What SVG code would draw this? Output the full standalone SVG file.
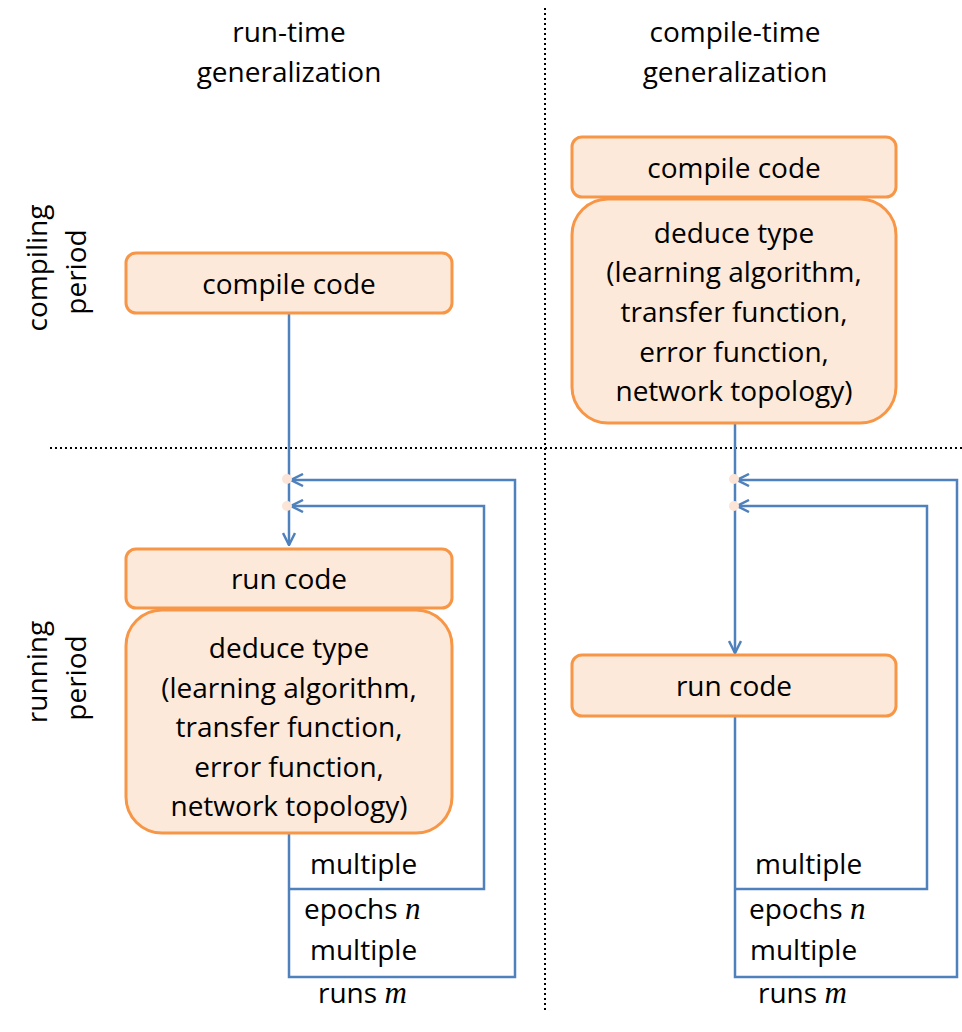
<svg xmlns="http://www.w3.org/2000/svg" width="962" height="1032" viewBox="0 0 962 1032">
<style>
text{font-family:"Open Sans","Noto Sans",sans-serif;font-size:28px;fill:#000;}
.c{text-anchor:middle;}
.box{fill:#FDE9D9;stroke:#F79646;stroke-width:3;}
.ln{fill:none;stroke:#4F81BD;stroke-width:2.5;}
.dot{fill:none;stroke:#000;stroke-width:2;stroke-dasharray:2 3;}
.m{font-family:"Liberation Serif","DejaVu Serif",serif;font-style:italic;font-size:31px;}
.pt{fill:#FCE4D6;}
</style>
<defs>
<marker id="ah" viewBox="0 0 14 14" refX="13" refY="7" markerWidth="14" markerHeight="14" markerUnits="userSpaceOnUse" orient="auto">
<path d="M1,1 L13,7 L1,13" fill="none" stroke="#4F81BD" stroke-width="2.5"/>
</marker>
</defs>
<g id="grid">
<line class="dot" x1="545" y1="8" x2="545" y2="1010"/>
<line class="dot" x1="50" y1="448" x2="962" y2="448"/>
</g>
<g id="headers">
<text class="c" x="289" y="42">run-time</text>
<text class="c" x="289" y="82">generalization</text>
<text class="c" x="735" y="42">compile-time</text>
<text class="c" x="735" y="82">generalization</text>
<text class="c" transform="translate(47,268) rotate(-90)">compiling</text>
<text class="c" transform="translate(86,272) rotate(-90)">period</text>
<text class="c" transform="translate(47,672) rotate(-90)">running</text>
<text class="c" transform="translate(86,678) rotate(-90)">period</text>
</g>
<g id="connectors">
<line class="ln" x1="289" y1="313" x2="289" y2="545" marker-end="url(#ah)"/>
<polyline class="ln" points="289,833 289,977 515,977 515,480 291,480" marker-end="url(#ah)"/>
<polyline class="ln" points="289,889 484,889 484,506 291,506" marker-end="url(#ah)"/>
<line class="ln" x1="735" y1="423" x2="735" y2="653" marker-end="url(#ah)"/>
<polyline class="ln" points="735,716 735,977 957,977 957,480 737,480" marker-end="url(#ah)"/>
<polyline class="ln" points="735,889 927,889 927,506 737,506" marker-end="url(#ah)"/>
<circle class="pt" cx="287" cy="479" r="5"/>
<circle class="pt" cx="287" cy="506" r="5"/>
<circle class="pt" cx="734" cy="479" r="5"/>
<circle class="pt" cx="734" cy="506" r="5"/>
</g>
<g id="left-compile">
<rect class="box" x="126" y="253" width="326" height="60" rx="10"/>
<text class="c" x="289" y="294">compile code</text>
</g>
<g id="left-run">
<rect class="box" x="126" y="549" width="326" height="59" rx="10"/>
<text class="c" x="289" y="589">run code</text>
</g>
<g id="left-deduce">
<rect class="box" x="126" y="610" width="326" height="223" rx="36"/>
<text class="c" x="289" y="658">deduce type</text>
<text class="c" x="289" y="698">(learning algorithm,</text>
<text class="c" x="289" y="737">transfer function,</text>
<text class="c" x="289" y="777">error function,</text>
<text class="c" x="289" y="816">network topology)</text>
</g>
<g id="right-compile">
<rect class="box" x="572" y="137" width="324" height="60" rx="10"/>
<text class="c" x="734" y="178">compile code</text>
</g>
<g id="right-deduce">
<rect class="box" x="572" y="199" width="324" height="224" rx="36"/>
<text class="c" x="734" y="243">deduce type</text>
<text class="c" x="734" y="282">(learning algorithm,</text>
<text class="c" x="734" y="322">transfer function,</text>
<text class="c" x="734" y="362">error function,</text>
<text class="c" x="734" y="401">network topology)</text>
</g>
<g id="right-run">
<rect class="box" x="572" y="655" width="324" height="61" rx="10"/>
<text class="c" x="734" y="696">run code</text>
</g>
<g id="labels">
<text x="310" y="874">multiple</text>
<text x="304" y="919">epochs <tspan class="m">n</tspan></text>
<text x="310" y="960">multiple</text>
<text x="318" y="1003">runs <tspan class="m">m</tspan></text>
<text x="755" y="874">multiple</text>
<text x="749" y="919">epochs <tspan class="m">n</tspan></text>
<text x="750" y="960">multiple</text>
<text x="758" y="1003">runs <tspan class="m">m</tspan></text>
</g>
</svg>
